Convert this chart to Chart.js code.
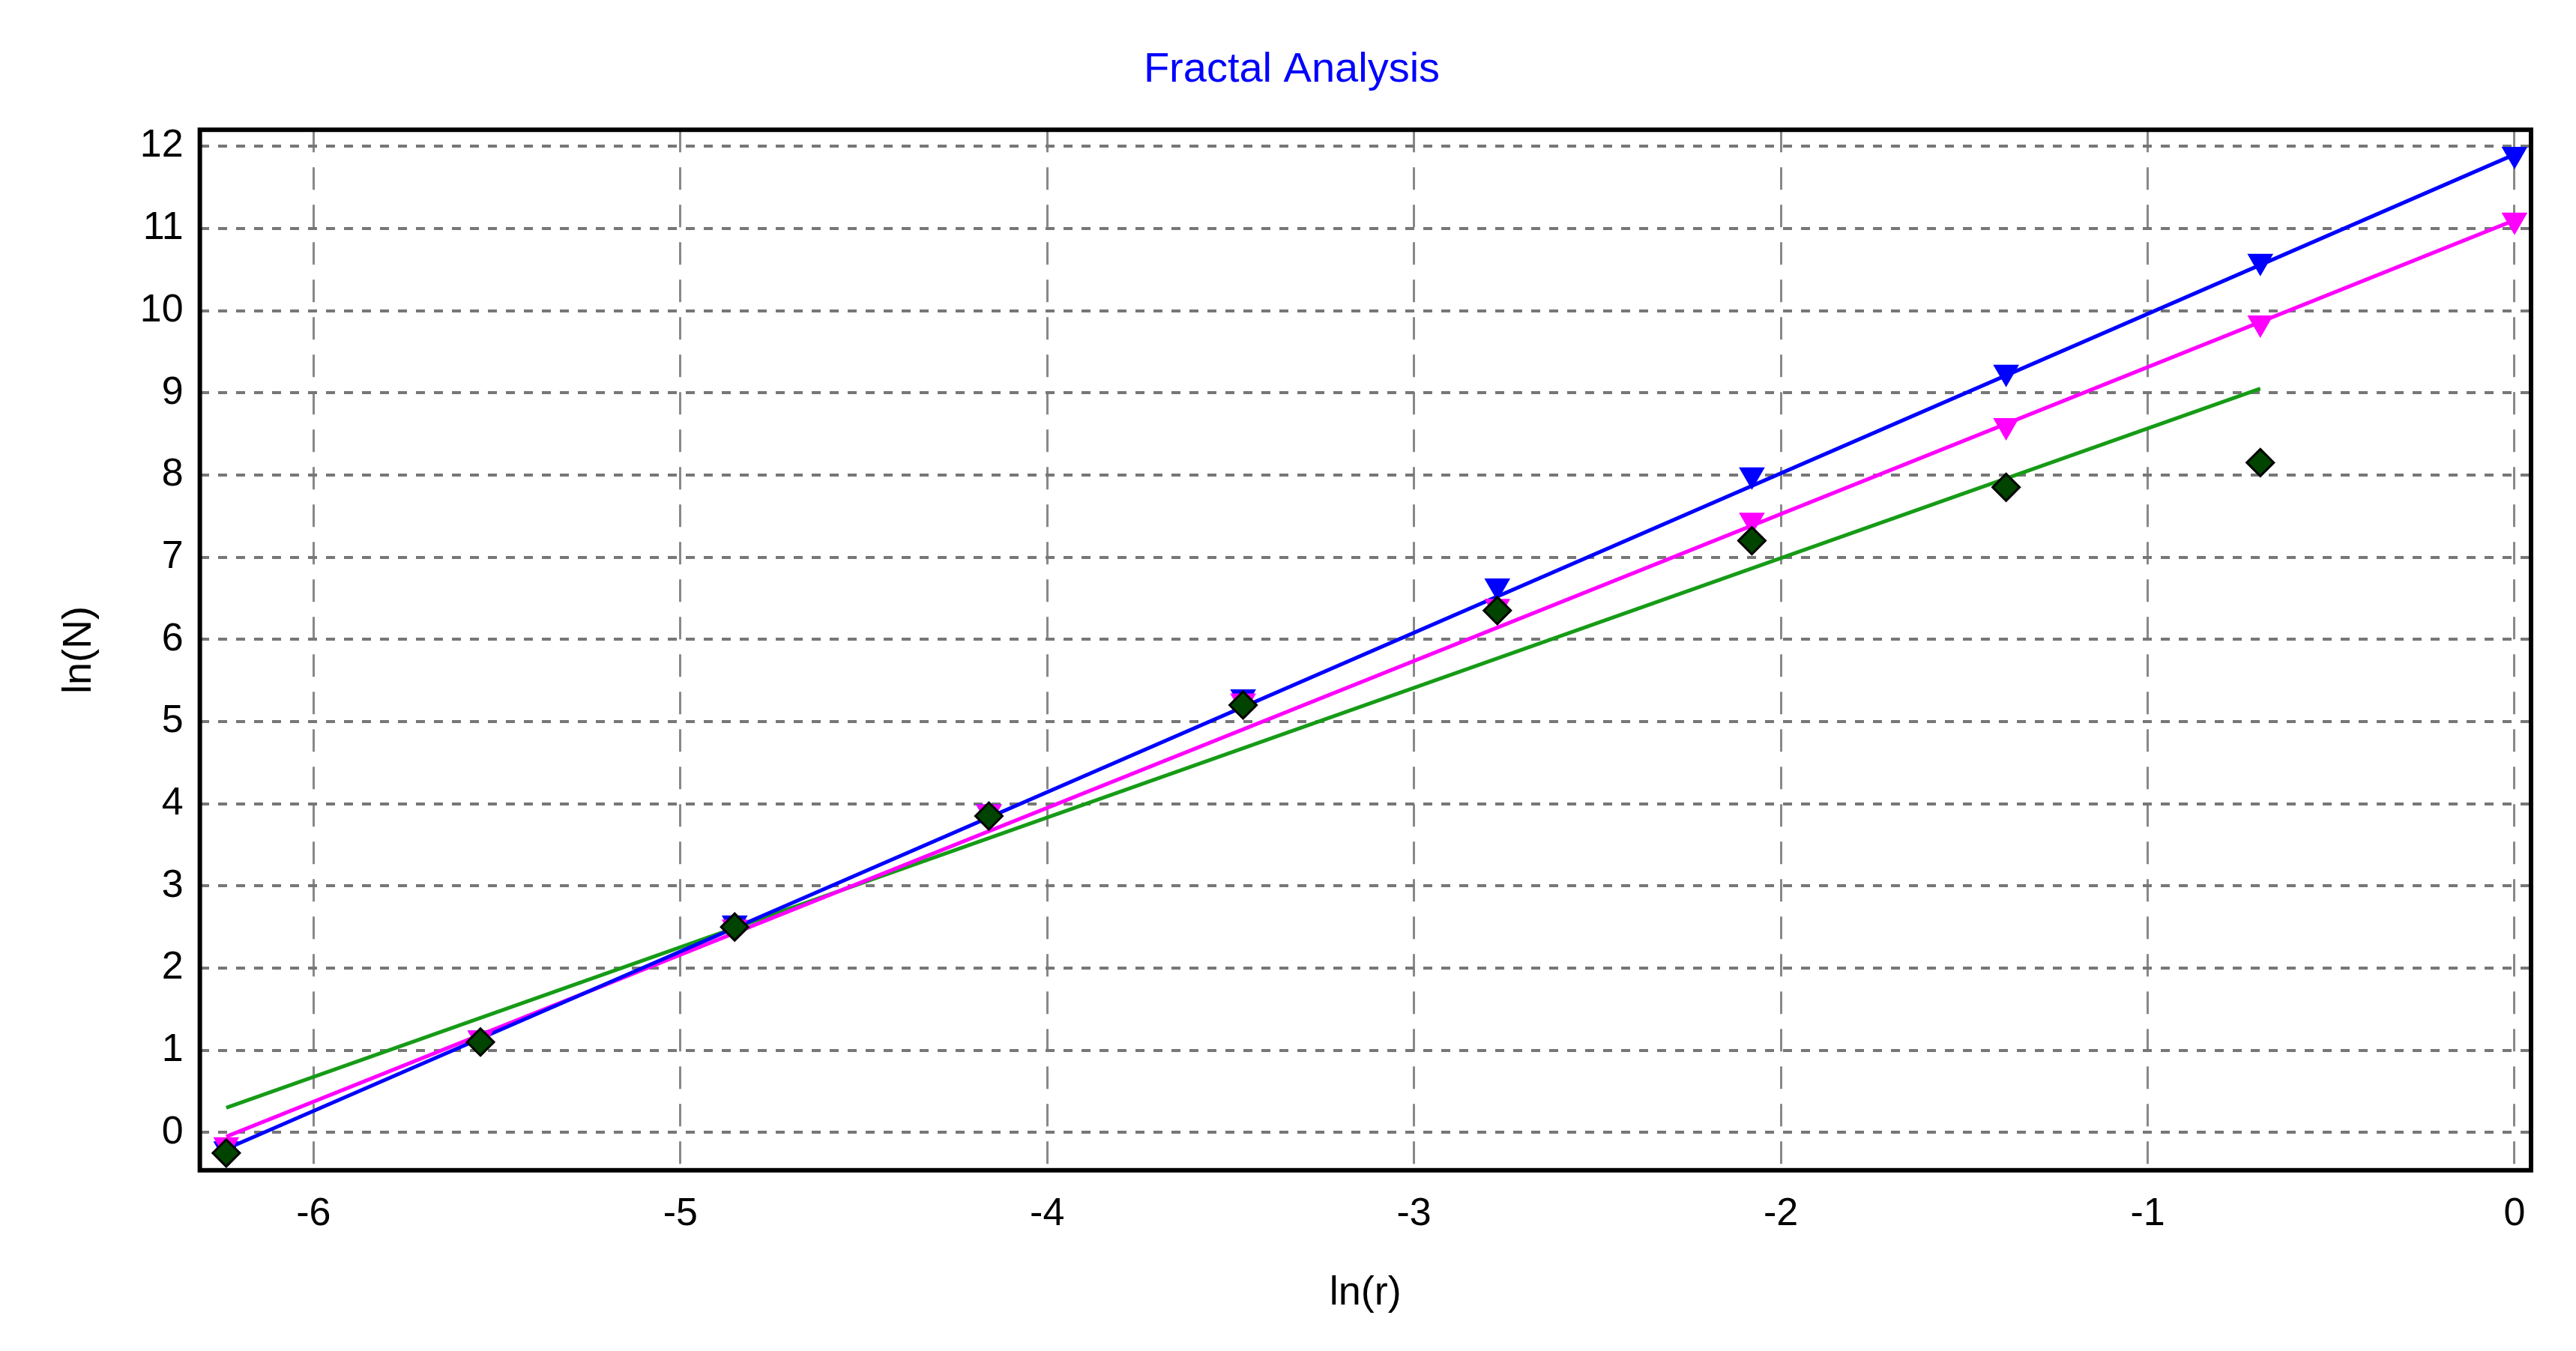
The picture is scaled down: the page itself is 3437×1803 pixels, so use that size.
<!DOCTYPE html>
<html>
<head>
<meta charset="utf-8">
<script src="https://cdn.jsdelivr.net/npm/chart.js@4/dist/chart.umd.min.js"></script>
<style>
  html, body { margin: 0; padding: 0; background: #fff; }
  #wrap { width: 3437px; height: 1803px; position: relative; }
</style>
</head>
<body>
<div id="wrap"><canvas id="fractalChart" width="3437" height="1803"></canvas></div>
<script>
// ln(r) values of the box sizes
const lnR = [-6.238, -5.545, -4.852, -4.159, -3.466, -2.773, -2.079, -1.386, -0.693, 0];
const blueN = [-0.2, 1.15, 2.55, 3.9, 5.3, 6.65, 8.0, 9.25, 10.6, 11.9];
const pinkN = [-0.15, 1.15, 2.5, 3.9, 5.25, 6.4, 7.45, 8.6, 9.85, 11.1];
const greenN = [-0.25, 1.1, 2.5, 3.85, 5.2, 6.35, 7.2, 7.85, 8.15];
// fitted lines: [x0, y0, x1, y1]
const blueFit = [-6.238, -0.2, 0, 11.9];
const pinkFit = [-6.238, -0.05, 0, 11.1];
const greenFit = [-6.238, 0.3, -0.693, 9.05];
const xTicks = [-6, -5, -4, -3, -2, -1, 0];
const yTicks = [0, 1, 2, 3, 4, 5, 6, 7, 8, 9, 10, 11, 12];

function pts(xs, ys) { return ys.map((y, i) => ({ x: xs[i], y: y })); }
function fit(f) { return [{ x: f[0], y: f[1] }, { x: f[2], y: f[3] }]; }

const font = '"Liberation Sans", Arial, sans-serif';

const framePlugin = {
    id: 'frame',
    afterDraw(chart) {
        const a = chart.chartArea, c = chart.ctx;
        c.save();
        c.strokeStyle = '#000';
        c.lineWidth = 6;
        c.strokeRect(a.left, a.top, a.right - a.left, a.bottom - a.top);
        c.restore();
    }
};

function fitLine(data, color) {
    return { type: 'line', data: data, borderColor: color, borderWidth: 5, pointRadius: 0, fill: false, order: 2 };
}
function markers(data, color, style, border) {
    return {
        type: 'scatter', data: data, showLine: false, pointStyle: style,
        rotation: style === 'triangle' ? 180 : 0,
        pointRadius: style === 'triangle' ? 17 : 18,
        backgroundColor: color, borderColor: border, borderWidth: 3, order: 1
    };
}

new Chart(document.getElementById('fractalChart'), {
    type: 'scatter',
    data: {
        datasets: [
            fitLine(fit(blueFit), '#0000ff'),
            fitLine(fit(pinkFit), '#ff00ff'),
            fitLine(fit(greenFit), '#169b16'),
            markers(pts(lnR, greenN), '#004400', 'rectRot', '#000'),
            markers(pts(lnR, pinkN), '#ff00ff', 'triangle', '#ff00ff'),
            markers(pts(lnR, blueN), '#0000ff', 'triangle', '#0000ff')
        ]
    },
    options: {
        responsive: false,
        animation: false,
        layout: { padding: { left: 70, right: 60, top: 20, bottom: 40 } },
        plugins: {
            legend: { display: false },
            tooltip: { enabled: false },
            title: {
                display: true, text: 'Fractal Analysis', color: '#0000ff',
                font: { family: font, size: 56, weight: 'normal' }, padding: { top: 40, bottom: 46 }
            }
        },
        scales: {
            x: {
                type: 'linear', min: -6.31, max: 0.045,
                afterBuildTicks: s => { s.ticks = xTicks.map(v => ({ value: v })); },
                ticks: { color: '#000', font: { family: font, size: 52 }, padding: 28 },
                grid: { color: '#888', lineWidth: 3, drawTicks: false },
                border: { display: false, dash: [30, 20] },
                title: { display: true, text: 'ln(r)', color: '#000', font: { family: font, size: 54 }, padding: { top: 14 } }
            },
            y: {
                type: 'linear', min: -0.46, max: 12.2,
                afterBuildTicks: s => { s.ticks = yTicks.map(v => ({ value: v })); },
                ticks: { color: '#000', font: { family: font, size: 52 }, padding: 22 },
                grid: { color: '#777', lineWidth: 4, drawTicks: false },
                border: { display: false, dash: [12, 12] },
                title: { display: true, text: 'ln(N)', color: '#000', font: { family: font, size: 54 }, padding: { bottom: 26 } }
            }
        }
    },
    plugins: [framePlugin]
});
</script>
</body>
</html>
